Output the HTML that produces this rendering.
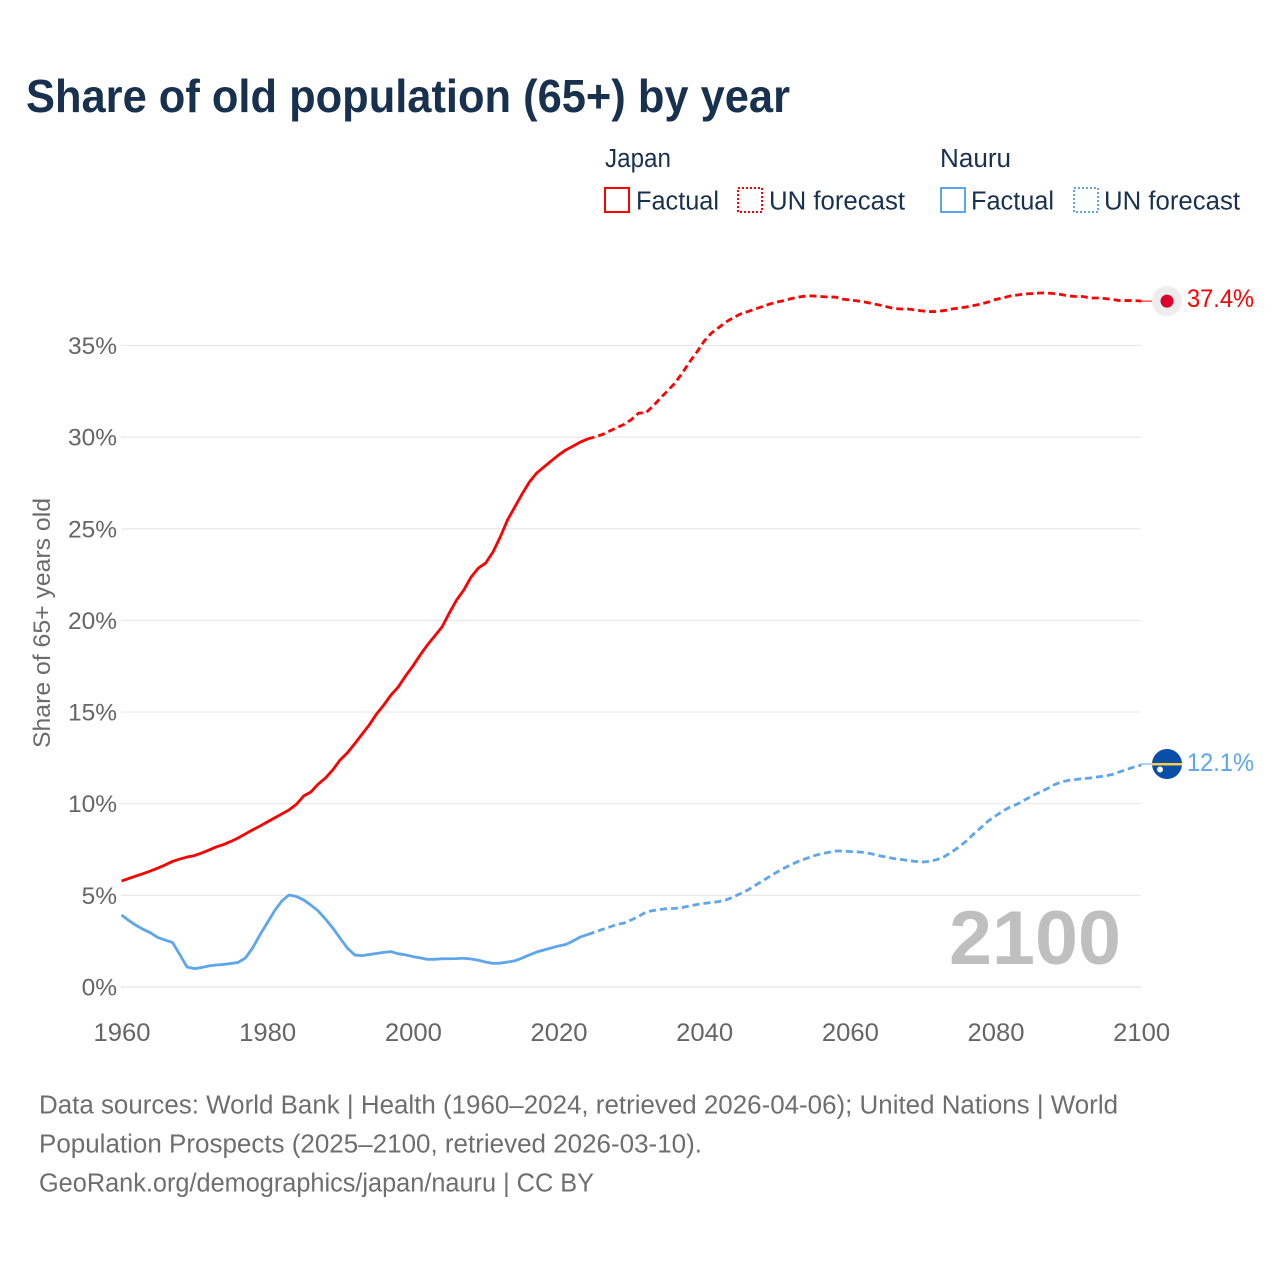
<!DOCTYPE html>
<html lang="en">
<head>
<meta charset="utf-8">
<title>Share of old population (65+) by year</title>
<style>
html,body{margin:0;padding:0;background:#fff;}
svg{display:block;}
text{font-family:"Liberation Sans",sans-serif;}
</style>
</head>
<body>
<svg id="chart" xmlns="http://www.w3.org/2000/svg" width="1280" height="1280" viewBox="0 0 1280 1280">
  <rect x="0" y="0" width="1280" height="1280" fill="#ffffff"/>
  <text x="26" y="112" font-size="46" font-weight="700" fill="#18314f" textLength="764" lengthAdjust="spacingAndGlyphs">Share of old population (65+) by year</text>

  <g font-size="25.5" fill="#18314f">
    <text x="605" y="167" textLength="66" lengthAdjust="spacingAndGlyphs">Japan</text>
    <rect x="605" y="188" width="24" height="24" fill="none" stroke="#ff0000" stroke-width="2"/>
    <text x="636" y="209.5" textLength="83" lengthAdjust="spacingAndGlyphs">Factual</text>
    <rect x="738" y="188" width="24" height="24" fill="none" stroke="#ff0000" stroke-width="2" stroke-dasharray="2 2"/>
    <text x="769" y="209.5" textLength="136" lengthAdjust="spacingAndGlyphs">UN forecast</text>
    <text x="940" y="167" textLength="71" lengthAdjust="spacingAndGlyphs">Nauru</text>
    <rect x="941" y="188" width="24" height="24" fill="none" stroke="#5da5ec" stroke-width="2"/>
    <text x="971" y="209.5" textLength="83" lengthAdjust="spacingAndGlyphs">Factual</text>
    <rect x="1074" y="188" width="24" height="24" fill="none" stroke="#5da5ec" stroke-width="2" stroke-dasharray="2 2"/>
    <text x="1104" y="209.5" textLength="136" lengthAdjust="spacingAndGlyphs">UN forecast</text>
  </g>

  <text transform="translate(50,623) rotate(-90)" text-anchor="middle" font-size="24" fill="#6b6b6b" textLength="250" lengthAdjust="spacingAndGlyphs">Share of 65+ years old</text>

  <g id="grid"></g>
  <g id="yticks"></g>
  <g id="xticks"></g>

  <text x="949" y="964" font-size="76" font-weight="700" fill="#bfbfbf" textLength="172" lengthAdjust="spacingAndGlyphs">2100</text>

  <g id="series"></g>
  <g id="endpoints"></g>

  <g font-size="25.5" fill="#6e6e6e">
    <text x="39" y="1113.5" textLength="1079" lengthAdjust="spacingAndGlyphs">Data sources: World Bank | Health (1960–2024, retrieved 2026-04-06); United Nations | World</text>
    <text x="39" y="1152.5" textLength="663" lengthAdjust="spacingAndGlyphs">Population Prospects (2025–2100, retrieved 2026-03-10).</text>
    <text x="39" y="1191.5" textLength="555" lengthAdjust="spacingAndGlyphs">GeoRank.org/demographics/japan/nauru | CC BY</text>
  </g>
</svg>

<script>
const factualStartYear = 1960;
const forecastStartYear = 2024;
const yearTicks = [1960, 1980, 2000, 2020, 2040, 2060, 2080, 2100];
const percentTicks = [0, 5, 10, 15, 20, 25, 30, 35];

const japanFactual = [5.78,5.92,6.06,6.19,6.33,6.49,6.66,6.85,6.98,7.09,7.17,7.31,7.47,7.64,7.77,7.94,8.13,8.35,8.57,8.78,9.0,9.22,9.44,9.66,9.96,10.42,10.64,11.07,11.40,11.84,12.38,12.77,13.26,13.78,14.29,14.89,15.38,15.93,16.37,16.97,17.51,18.11,18.66,19.15,19.64,20.40,21.11,21.66,22.37,22.86,23.13,23.73,24.55,25.48,26.19,26.90,27.55,28.04,28.37,28.70,29.02,29.30,29.51,29.73,29.90];
const japanForecast = [29.90,30.01,30.14,30.33,30.52,30.69,30.96,31.31,31.33,31.70,32.13,32.54,32.95,33.50,34.10,34.64,35.24,35.68,35.98,36.28,36.52,36.72,36.85,36.99,37.12,37.26,37.37,37.45,37.56,37.64,37.70,37.70,37.67,37.64,37.64,37.53,37.48,37.43,37.37,37.29,37.21,37.12,37.02,36.99,36.99,36.93,36.88,36.85,36.85,36.91,36.99,37.04,37.10,37.18,37.26,37.37,37.51,37.59,37.70,37.75,37.81,37.83,37.86,37.86,37.83,37.78,37.70,37.67,37.67,37.59,37.59,37.56,37.51,37.45,37.45,37.45,37.42];
const nauruFactual = [3.93,3.63,3.36,3.14,2.95,2.70,2.56,2.43,1.77,1.09,1.0,1.06,1.15,1.20,1.23,1.28,1.34,1.58,2.13,2.84,3.49,4.15,4.69,5.02,4.94,4.75,4.47,4.15,3.71,3.22,2.67,2.13,1.75,1.71,1.77,1.83,1.89,1.93,1.81,1.75,1.66,1.59,1.51,1.51,1.54,1.54,1.55,1.57,1.53,1.46,1.36,1.29,1.30,1.36,1.43,1.58,1.75,1.91,2.02,2.13,2.24,2.32,2.51,2.73,2.86];
const nauruForecast = [2.86,3.00,3.14,3.27,3.41,3.49,3.66,3.85,4.09,4.17,4.23,4.28,4.29,4.34,4.42,4.50,4.56,4.61,4.66,4.75,4.91,5.10,5.29,5.54,5.78,6.03,6.27,6.49,6.68,6.87,7.01,7.15,7.26,7.34,7.42,7.42,7.39,7.37,7.34,7.26,7.17,7.09,7.01,6.96,6.90,6.85,6.82,6.85,6.96,7.12,7.37,7.64,7.97,8.35,8.70,9.06,9.33,9.60,9.82,9.98,10.20,10.42,10.61,10.80,11.02,11.18,11.27,11.32,11.37,11.40,11.46,11.51,11.59,11.73,11.87,12.0,12.11];
const japanEndLabel = 37.4;
const nauruEndLabel = 12.1;

const NS = 'http://www.w3.org/2000/svg';
function xScale(year) { return 121.5 + (year - 1960) * (1141.2 - 121.5) / 140; }
function yScale(pct) { return 987 - pct * 18.33; }
function make(tag, attrs, parent) {
  const el = document.createElementNS(NS, tag);
  for (const k in attrs) el.setAttribute(k, attrs[k]);
  parent.appendChild(el);
  return el;
}
function pathFor(values, startYear) {
  return values.map(function (v, i) {
    return (i ? 'L' : 'M') + xScale(startYear + i).toFixed(2) + ' ' + yScale(v).toFixed(2);
  }).join(' ');
}

const grid = document.getElementById('grid');
const yticks = document.getElementById('yticks');
const xticks = document.getElementById('xticks');
const series = document.getElementById('series');
const endpoints = document.getElementById('endpoints');

percentTicks.forEach(function (p) {
  const line = make('line', { x1: 121, x2: 1141, y1: yScale(p), y2: yScale(p), stroke: p === 0 ? '#e8e8e8' : '#e9e9e9', 'stroke-width': p === 0 ? 1.6 : 1.2 }, grid);
  
  
  const label = make('text', { x: 117, y: yScale(p) + 8.5, 'text-anchor': 'end', 'font-size': 24.5, fill: '#666666' }, yticks);
  label.textContent = p + '%';
  
  
});

yearTicks.forEach(function (y) {
  const label = make('text', { x: xScale(y) + 0.5, y: 1041, 'text-anchor': 'middle', 'font-size': 25, fill: '#666666', textLength: 57, lengthAdjust: 'spacingAndGlyphs' }, xticks);
  label.textContent = String(y);
  
  
});

const jf = make('path', { d: pathFor(japanFactual, factualStartYear), fill: 'none', stroke: '#ff0000', 'stroke-width': 2.8, 'stroke-linejoin': 'round' }, series);


const jp = make('path', { d: pathFor(japanForecast, forecastStartYear), fill: 'none', stroke: '#ff0000', 'stroke-width': 2.8, 'stroke-dasharray': '7 4' }, series);


const nf = make('path', { d: pathFor(nauruFactual, factualStartYear), fill: 'none', stroke: '#5da5ec', 'stroke-width': 2.8, 'stroke-linejoin': 'round' }, series);


const np = make('path', { d: pathFor(nauruForecast, forecastStartYear), fill: 'none', stroke: '#5da5ec', 'stroke-width': 2.8, 'stroke-dasharray': '7 4' }, series);



const jEndY = yScale(japanForecast[japanForecast.length - 1]);
const nEndY = yScale(nauruForecast[nauruForecast.length - 1]) - 1;
const flagX = 1167;

const jc = make('line', { x1: 1141, x2: 1152, y1: jEndY, y2: jEndY, stroke: '#ff0000', 'stroke-width': 1 }, endpoints);


const jFlag = make('circle', { cx: flagX, cy: jEndY, r: 15, fill: '#ededed' }, endpoints);


const jDot = make('circle', { cx: flagX, cy: jEndY, r: 6.5, fill: '#dc002c' }, endpoints);


const jLabel = make('text', { x: 1187, y: jEndY + 6, 'font-size': 25, fill: '#ff0000', textLength: 67, lengthAdjust: 'spacingAndGlyphs' }, endpoints);
jLabel.textContent = japanEndLabel.toFixed(1) + '%';



const nc = make('line', { x1: 1141, x2: 1152, y1: nEndY, y2: nEndY, stroke: '#5da5ec', 'stroke-width': 1 }, endpoints);


const nFlag = make('circle', { cx: flagX, cy: nEndY, r: 15, fill: '#0a4ea8' }, endpoints);


const nStripe = make('rect', { x: flagX - 15, y: nEndY - 1, width: 30, height: 2.4, fill: '#ffd147' }, endpoints);


const nStar = make('circle', { cx: flagX - 7, cy: nEndY + 5.5, r: 3, fill: '#ffffff' }, endpoints);


const nLabel = make('text', { x: 1187, y: nEndY + 7, 'font-size': 25, fill: '#5da5ec', textLength: 67, lengthAdjust: 'spacingAndGlyphs' }, endpoints);
nLabel.textContent = nauruEndLabel.toFixed(1) + '%';


</script>
</body>
</html>
